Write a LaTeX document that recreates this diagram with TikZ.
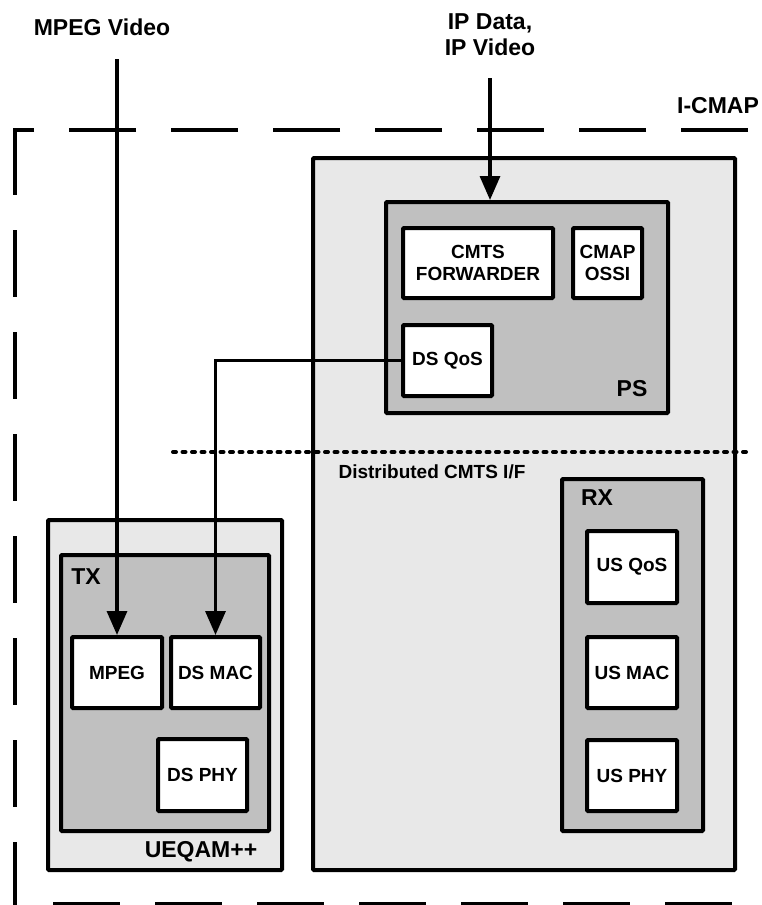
\documentclass[tikz,border=0pt]{standalone}
\usepackage{fontspec}
\setmainfont{Liberation Sans}
\usetikzlibrary{arrows.meta}
\definecolor{lgray}{HTML}{E8E8E8}
\definecolor{dgray}{HTML}{C0C0C0}
\begin{document}
\begin{tikzpicture}[x=1pt,y=-1pt,
 outerbox/.style={draw, line width=4pt, fill=lgray, rounded corners=1pt, inner sep=0pt},
 midbox/.style={draw, line width=4pt, fill=dgray, rounded corners=1pt, inner sep=0pt},
 wbox/.style={draw, line width=4pt, fill=white, rounded corners=1pt, inner sep=0pt, align=center, font=\fontsize{19}{22}\selectfont\bfseries},
 hlabel/.style={font=\fontsize{23}{26}\selectfont\bfseries, inner sep=0pt, align=center},
 slabel/.style={font=\fontsize{19}{21}\selectfont\bfseries, inner sep=0pt},
 arr/.style={line width=3.3pt, -{Triangle[length=24pt,width=20pt]}},
 frameline/.style={line width=4pt, dash pattern=on 67pt off 35pt},
 dotline/.style={line width=4pt, line cap=round, dash pattern=on 3pt off 6.5pt},
]
\useasboundingbox (0,0) rectangle (762,905);
\clip (0,0) rectangle (762,905);
\fill[white] (0,0) rectangle (762,905);

% I-CMAP dashed frame
\draw[frameline] (748,130) -- (13,130);
\draw[frameline] (15,128) -- (15,905);
\draw[frameline] (53,904) -- (762,904);
\node[hlabel] (icmap) at (718,106) {I-CMAP};

% PS side
\node[outerbox, minimum width=422pt, minimum height=712pt] (psouter) at (524,514) {};
\node[midbox, minimum width=282pt, minimum height=211pt] (ps) at (527,307.5) {};
\node[wbox, minimum width=150pt, minimum height=70pt] (cmts) at (478,263) {CMTS\\FORWARDER};
\node[wbox, minimum width=69pt, minimum height=70pt] (cmap) at (607.5,263) {CMAP\\OSSI};
\node[wbox, minimum width=89pt, minimum height=71pt] (dsqos) at (447.5,360.5) {DS QoS};
\node[hlabel] (pslabel) at (632,388.5) {PS};

% distributed interface
\coordinate (dl) at (173,452);
\coordinate (dr) at (752,452);
\draw[dotline] (dl) -- (dr);
\node[slabel] (dist) at (432,472) {Distributed CMTS I/F};

% RX
\node[midbox, minimum width=141pt, minimum height=352pt] (rx) at (632.5,655) {};
\node[hlabel] (rxlabel) at (597,498) {RX};
\node[wbox, minimum width=90pt, minimum height=72pt] (usqos) at (632,567) {US QoS};
\node[wbox, minimum width=90pt, minimum height=71pt] (usmac) at (632,672.5) {US MAC};
\node[wbox, minimum width=90pt, minimum height=71pt] (usphy) at (632,775.5) {US PHY};

% UEQAM++
\node[outerbox, minimum width=234pt, minimum height=350pt] (ueqam) at (165,695) {};
\node[midbox, minimum width=208pt, minimum height=276pt] (tx) at (165,693) {};
\node[hlabel] (txlabel) at (86,577) {TX};
\node[wbox, minimum width=90pt, minimum height=71pt] (mpeg) at (117,672.5) {MPEG};
\node[wbox, minimum width=89pt, minimum height=71pt] (dsmac) at (215.5,672.5) {DS MAC};
\node[wbox, minimum width=89pt, minimum height=72pt] (dsphy) at (202.5,775) {DS PHY};
\node[hlabel] (uelabel) at (201,852) {UEQAM++};

% inputs
\node[hlabel] (mpegvid) at (102,27) {MPEG Video};
\node[hlabel] (ipdata) at (490,35) {IP Data,\\IP Video};
\coordinate (mpegsrc) at (117,59);
\coordinate (ipsrc) at (490,78);

% connectors
\draw[arr] (mpegsrc) -- (mpeg.north);
\draw[arr] (ipsrc) -- (ipsrc |- ps.north);
\draw[arr] (dsqos.west) -| (dsmac.north);
\end{tikzpicture}
\end{document}
